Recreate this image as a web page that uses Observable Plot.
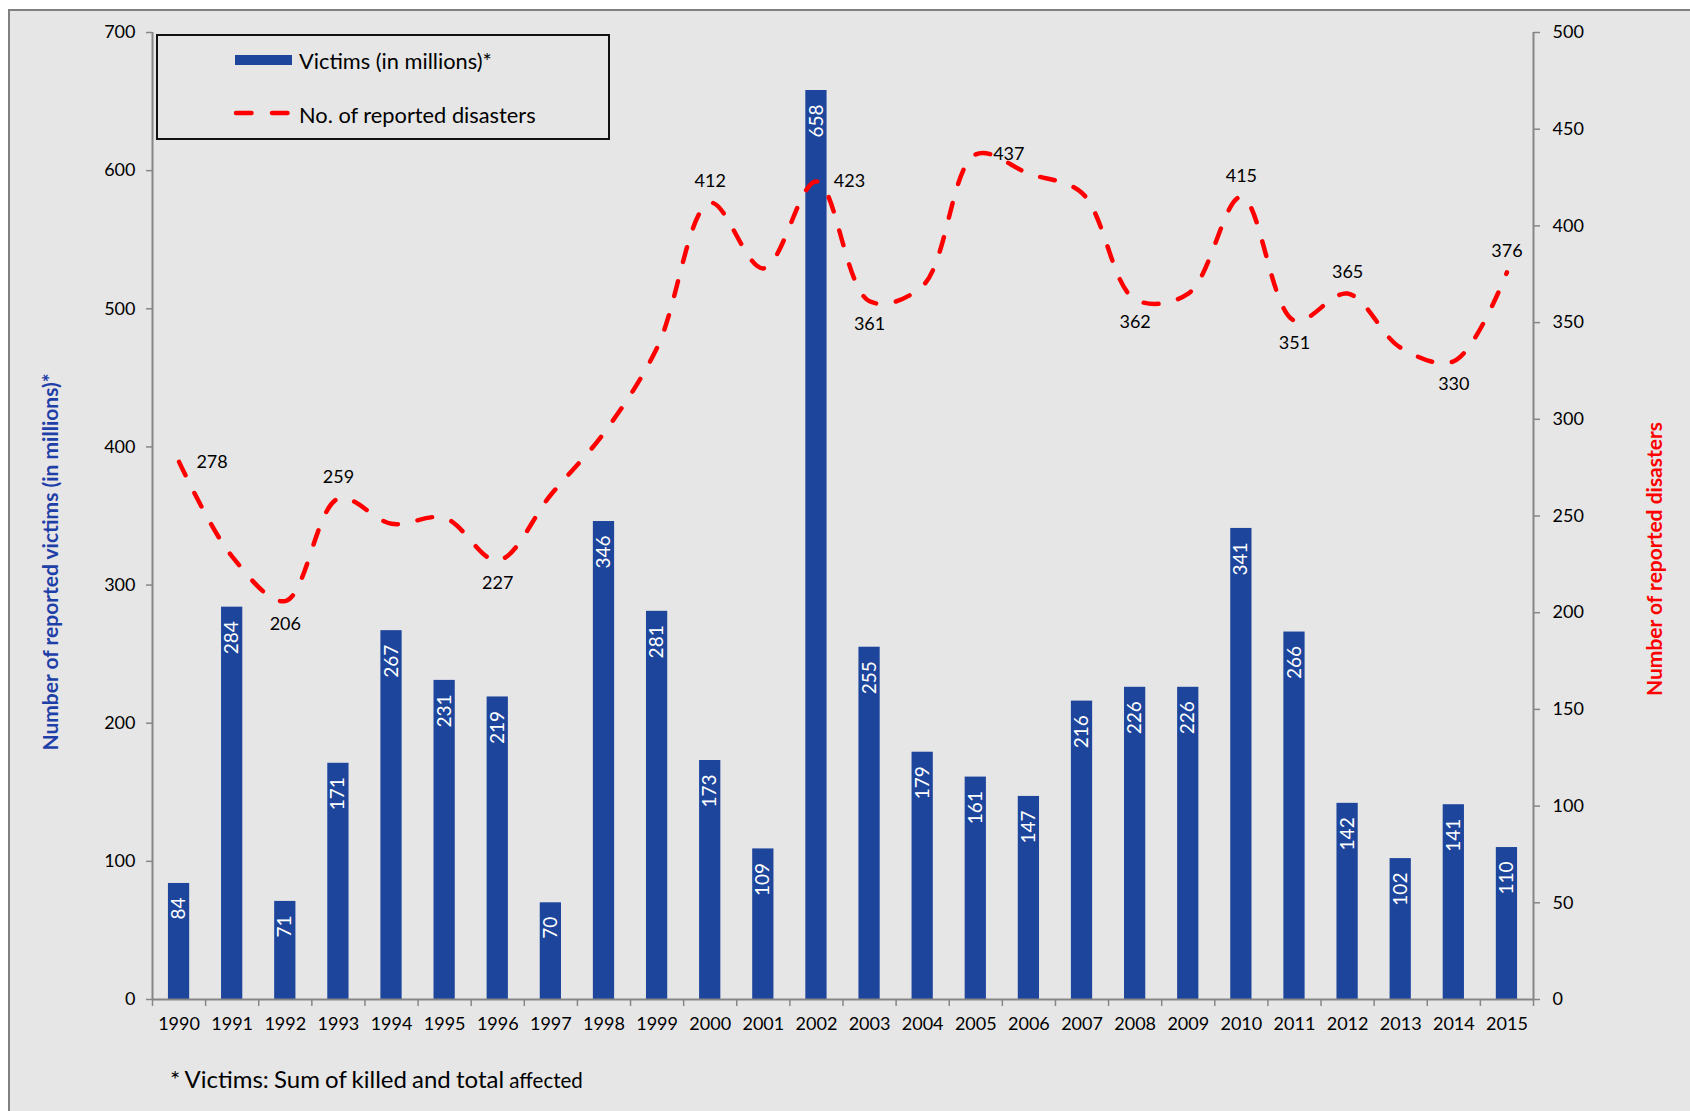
<!DOCTYPE html>
<html>
<head>
<meta charset="utf-8">
<script src="https://cdn.jsdelivr.net/npm/d3@7"></script>
<script src="https://cdn.jsdelivr.net/npm/@observablehq/plot@0.6"></script>
<style>
  html, body { margin: 0; padding: 0; background: #ffffff; }
  body { width: 1690px; height: 1111px; overflow: hidden; position: relative; font-family: Lato, "Open Sans", sans-serif; }
  #frame { position: absolute; left: 8px; top: 9px; width: 1700px; height: 1120px; background: #e6e6e6;
           border-top: 2px solid #808080; border-left: 2px solid #808080; }
  #chart { position: absolute; left: 0; top: 0; }
  .legend { position: absolute; left: 156px; top: 34px; width: 454px; height: 106px; border: 2px solid #111; box-sizing: border-box; }
  .legtext { position: absolute; font-size: 21.8px; color: #000; line-height: 24px; white-space: nowrap; }
  .swatch { position: absolute; }
  .foot { position: absolute; left: 170px; top: 1065px; font-size: 24px; line-height: 28px; color: #000; white-space: nowrap; word-spacing: -1px; }
  .foot small { font-size: 20.5px; }
</style>
</head>
<body>
<div id="frame"></div>
<div id="chart"></div>
<div class="legend"></div>
<div class="swatch" id="sw1"></div>
<svg class="swatch" id="sw2" width="80" height="14" style="left:226px;top:106px"></svg>
<div class="legtext" id="lt1" style="left:299px;top:49px"></div>
<div class="legtext" id="lt2" style="left:299px;top:103px"></div>
<div class="foot" id="foot"></div>
<script>
// ---------- data ----------
const years = [1990,1991,1992,1993,1994,1995,1996,1997,1998,1999,2000,2001,2002,2003,2004,2005,2006,2007,2008,2009,2010,2011,2012,2013,2014,2015];
const victims = [84,284,71,171,267,231,219,70,346,281,173,109,658,255,179,161,147,216,226,226,341,266,142,102,141,110];
const disasters = [278,229,206,259,246,249,227,261,293,337,412,378,423,361,369,437,427,417,362,365,415,351,365,337,330,376];
const leftTicks = [0,100,200,300,400,500,600,700];
const rightTicks = [0,50,100,150,200,250,300,350,400,450,500];
const labelsRight = [1990,2002,2005];
const labelsAbove = [1993,2000,2010,2012,2015];
const labelsBelow = [1992,1996,2003,2008,2011,2014];
const seriesNames = ["Victims (in millions)*", "No. of reported disasters"];
const axisTitles = ["Number of reported victims (in millions)*", "Number of reported disasters"];
const footText = ["* Victims: Sum of killed and total ", "affected"];

// ---------- build ----------
const BLUE = "#1d459c";
const RED = "#ff0000";
const AXIS = "#868686";
const leftMax = 700, rightMax = 500, R = leftMax / rightMax;
const data = years.map((year, i) => ({year, victims: victims[i], disasters: disasters[i]}));
const boundaries = years.map(y => y - 0.5).concat([years[years.length - 1] + 0.5]);
const pick = list => data.filter(d => list.includes(d.year));

const chart = Plot.plot({
  width: 1690,
  height: 1111,
  marginLeft: 152,
  marginRight: 157,
  marginTop: 32,
  marginBottom: 112,
  style: {background: "transparent", fontFamily: "Lato, 'Open Sans', sans-serif", fontSize: "18px", color: "#000"},
  x: {domain: [boundaries[0], boundaries[boundaries.length - 1]], axis: null},
  y: {domain: [0, leftMax], axis: null},
  marks: [
    Plot.rectY(data, {x1: d => d.year - 0.2, x2: d => d.year + 0.2, y1: 0, y2: "victims", fill: BLUE}),
    Plot.text(data, {x: "year", y: "victims", text: d => String(d.victims), rotate: -90, textAnchor: "end", dy: 14, fill: "#ffffff", fontSize: 19}),
    Plot.line(data, {x: "year", y: d => d.disasters * R, stroke: RED, strokeWidth: 4.5, strokeDasharray: "15,20", strokeLinecap: "round", curve: "catmull-rom"}),
    Plot.text(pick(labelsRight), {x: "year", y: d => d.disasters * R, text: d => String(d.disasters), dx: 33, fill: "#000", fontSize: 18}),
    Plot.text(pick(labelsAbove), {x: "year", y: d => d.disasters * R, text: d => String(d.disasters), dy: -21, fill: "#000", fontSize: 18}),
    Plot.text(pick(labelsBelow), {x: "year", y: d => d.disasters * R, text: d => String(d.disasters), dy: 23, fill: "#000", fontSize: 18}),
    // axis lines
    Plot.ruleY([0], {stroke: AXIS, strokeWidth: 2}),
    Plot.ruleX([boundaries[0]], {stroke: AXIS, strokeWidth: 2}),
    Plot.ruleX([boundaries[boundaries.length - 1]], {stroke: AXIS, strokeWidth: 2}),
    // left axis
    Plot.axisY(leftTicks, {anchor: "left", tickSize: 6, tickPadding: 11, stroke: AXIS, fill: "#000", strokeWidth: 1.5, fontSize: 18, label: null}),
    // right axis
    Plot.axisY(rightTicks.map(v => v * R), {anchor: "right", tickSize: 6, tickPadding: 13, stroke: AXIS, fill: "#000", strokeWidth: 1.5, fontSize: 18, label: null, tickFormat: v => String(Math.round(v / R))}),
    // x axis ticks between categories
    Plot.axisX(boundaries, {anchor: "bottom", tickSize: 7, tickFormat: () => "", stroke: AXIS, strokeWidth: 1.5, label: null}),
    // x axis labels
    Plot.axisX(years, {anchor: "bottom", tickSize: 0, tickPadding: 18, tickFormat: d => String(d), fill: "#000", fontSize: 18, label: null}),
    // axis titles
    Plot.text([axisTitles[0]], {frameAnchor: "left", textAnchor: "middle", rotate: -90, dx: -101, dy: 46, fill: "#1f3fa8", fontWeight: "bold", fontSize: 21}),
    Plot.text([axisTitles[1]], {frameAnchor: "right", textAnchor: "middle", rotate: -90, dx: 122, dy: 43, fill: RED, fontWeight: "bold", fontSize: 21})
  ]
});
document.getElementById("chart").appendChild(chart);

// legend
const sw1 = document.getElementById("sw1");
Object.assign(sw1.style, {left: "235px", top: "55px", width: "57px", height: "10px", background: BLUE});
d3.select("#sw2").append("line")
  .attr("x1", 10).attr("x2", 64).attr("y1", 7).attr("y2", 7)
  .attr("stroke", RED).attr("stroke-width", 4.5).attr("stroke-dasharray", "15.5,20.5").attr("stroke-linecap", "round");
document.getElementById("lt1").textContent = seriesNames[0];
document.getElementById("lt2").textContent = seriesNames[1];
const foot = document.getElementById("foot");
foot.appendChild(document.createTextNode(footText[0]));
const sm = document.createElement("small");
sm.textContent = footText[1];
foot.appendChild(sm);
</script>
</body>
</html>
